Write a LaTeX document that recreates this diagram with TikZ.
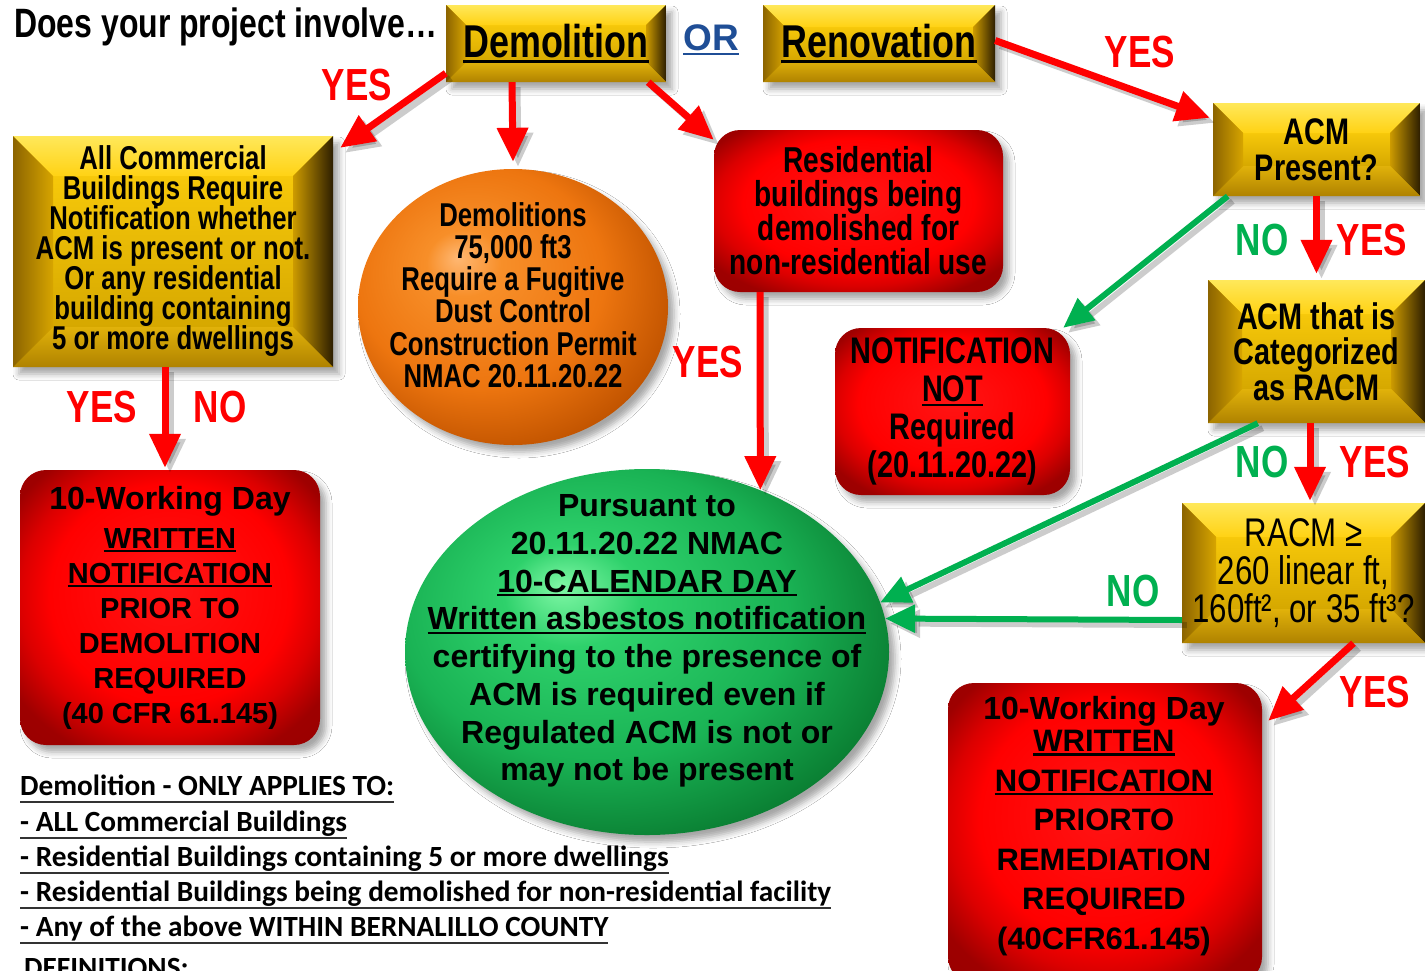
\documentclass[tikz,border=0pt]{standalone}
\usepackage{fontspec}
\setmainfont{Liberation Sans}
\newfontfamily\nar[FakeStretch=0.78]{Liberation Sans}
\newfontfamily\carl{Carlito}
\usetikzlibrary{shapes.geometric,arrows.meta,shadows.blur}
\newcommand\fs[2]{\fontsize{#1}{#2}\selectfont\lineskiplimit=-100pt\lineskip=0pt}
\newcommand\uln[1]{\setbox0\hbox{#1}\rlap{\rule[-0.13em]{\wd0}{0.075em}}\box0}
\newcommand\ulb[1]{\setbox0\hbox{#1}\rlap{\color{black!80}\rule[-0.28em]{\wd0}{0.07em}}\box0}
\definecolor{faceT}{RGB}{246,200,10}
\definecolor{faceB}{RGB}{214,168,0}
\definecolor{topA}{RGB}{255,232,90}
\definecolor{topB}{RGB}{255,210,20}
\definecolor{rgtA}{RGB}{205,155,0}
\definecolor{rgtB}{RGB}{45,30,0}
\definecolor{botA}{RGB}{225,178,10}
\definecolor{botB}{RGB}{175,130,0}
\definecolor{lftA}{RGB}{140,100,0}
\definecolor{lftB}{RGB}{215,165,0}
\definecolor{arrred}{RGB}{255,0,0}
\definecolor{arrgreen}{RGB}{0,176,80}
\definecolor{orblue}{RGB}{31,78,150}
\pgfdeclareradialshading{redglow}{\pgfpoint{0bp}{4bp}}{rgb(0bp)=(1,0.08,0.08); rgb(20bp)=(1,0,0); rgb(25bp)=(0.86,0,0); rgb(31bp)=(0.62,0,0); rgb(50bp)=(0.55,0,0)}
\pgfdeclareradialshading{orangeball}{\pgfpoint{-9bp}{9bp}}{rgb(0bp)=(1,0.72,0.45); rgb(6bp)=(0.97,0.56,0.16); rgb(20bp)=(0.93,0.46,0.06); rgb(30bp)=(0.76,0.33,0.0); rgb(37bp)=(0.5,0.2,0); rgb(50bp)=(0.4,0.15,0)}
\pgfdeclareradialshading{greenball}{\pgfpoint{-9bp}{9bp}}{rgb(0bp)=(0.5,0.97,0.65); rgb(7bp)=(0.18,0.82,0.42); rgb(20bp)=(0.1,0.7,0.33); rgb(30bp)=(0.04,0.5,0.2); rgb(37bp)=(0,0.3,0.1); rgb(50bp)=(0,0.2,0.05)}
\newcommand\conn[3]{%
  \begin{scope}[transform canvas={shift={(5pt,-5pt)}}]
    \draw[#1, draw=black, opacity=.2] #2 -- #3;
  \end{scope}
  \draw[#1] #2 -- #3;}
\begin{document}
\begin{tikzpicture}[x=1pt,y=-1pt,
  bevel/.style={path picture={
    \path (path picture bounding box.north west) coordinate (bvA)
          (path picture bounding box.north east) coordinate (bvB)
          (path picture bounding box.south east) coordinate (bvC)
          (path picture bounding box.south west) coordinate (bvD);
    \path ([xshift=#1pt,yshift=-#1pt]bvA) coordinate (bva)
          ([xshift=-#1pt,yshift=-#1pt]bvB) coordinate (bvb)
          ([xshift=-#1pt,yshift=#1pt]bvC) coordinate (bvc)
          ([xshift=#1pt,yshift=#1pt]bvD) coordinate (bvd);
    \shade[top color=faceT,bottom color=faceB] (bva) rectangle (bvc);
    \shade[top color=topA,bottom color=topB] (bvA)--(bvB)--(bvb)--(bva)--cycle;
    \shade[left color=rgtA,right color=rgtB] (bvB)--(bvC)--(bvc)--(bvb)--cycle;
    \shade[top color=botA,bottom color=botB] (bvD)--(bvC)--(bvc)--(bvd)--cycle;
    \shade[left color=lftA,right color=lftB] (bvA)--(bvD)--(bvd)--(bva)--cycle;
  }},
  shad/.style={blur shadow={shadow xshift=6pt,shadow yshift=-7pt,shadow opacity=35,shadow blur radius=6pt}},
  gbox/.style={bevel=#1, fill=faceB, inner sep=0pt, align=center, shad},
  rbox/.style={rounded corners=26pt, shade, shading=redglow, inner sep=0pt, align=center, shad},
  ball/.style={ellipse, shade, shading=#1, inner sep=0pt, shad},
  rarr/.style={draw=arrred, line width=7pt, -{Triangle[length=34pt,width=30pt]}},
  garr/.style={draw=arrgreen, line width=6pt, -{Triangle[length=30pt,width=27pt]}},
  ylab/.style={font=\nar\bfseries\fs{45}{45}, text=arrred, inner sep=0pt},
  nlab/.style={font=\nar\bfseries\fs{45}{45}, text=arrgreen, inner sep=0pt},
  listl/.style={anchor=base west, font=\carl\bfseries\fs{29.3}{29.3}, inner sep=0pt}
]
\clip (0,0) rectangle (1425,970);
\fill[white] (0,0) rectangle (1425,970);

% title
\node[anchor=base west, inner sep=0pt, font=\nar\bfseries\fs{41}{41}] (title) at (14,37) {Does your project involve…};

% top boxes
\node[gbox=20, minimum width=220pt, minimum height=77pt, font=\nar\bfseries\fs{46}{46}] (demo) at (556,43.5) {\uln{Demolition}};
\node[font=\bfseries\fs{37}{37}, text=orblue, inner sep=0pt] (or) at (711,40) {\uln{OR}};
\node[gbox=22, minimum width=232pt, minimum height=77pt, font=\nar\bfseries\fs{46}{46}] (reno) at (879,43.5) {\uln{Renovation}};

% left column
\node[gbox=40, minimum width=320pt, minimum height=231pt, font=\nar\bfseries\fs{33}{30}] (allc) at (173,251.5)
  {All Commercial\\Buildings Require\\Notification whether\\ACM is present or not.\\Or any residential\\building containing\\5 or more dwellings};
\node[rbox, minimum width=300pt, minimum height=275pt, font=\bfseries\fs{29}{35}] (lred) at (170,607.5)
  {{\fs{32}{35}10-Working Day}\\[4pt]\uln{WRITTEN}\\\uln{NOTIFICATION}\\PRIOR TO\\DEMOLITION\\REQUIRED\\(40 CFR 61.145)};

% orange ball
\node[ball=orangeball, minimum width=310pt, minimum height=276pt] (orng) at (513,307) {};
\node[font=\nar\bfseries\fs{33}{32.2}, align=center, inner sep=0pt] (otxt) at (513,295)
  {Demolitions\\75,000 ft3\\Require a Fugitive\\Dust Control\\Construction Permit\\NMAC 20.11.20.22};

% residential
\node[rbox, minimum width=289pt, minimum height=162pt, font=\nar\bfseries\fs{36}{34}] (resi) at (858.5,211)
  {Residential\\buildings being\\demolished for\\non-residential use};

% notification not required
\node[rbox, minimum width=235pt, minimum height=167pt, font=\nar\bfseries\fs{37}{38}] (notr) at (952.5,411.5)
  {NOTIFICATION\\\uln{NOT}\\Required\\(20.11.20.22)};

% right column
\node[gbox=30, minimum width=207pt, minimum height=93pt, font=\nar\bfseries\fs{37}{36}] (acm) at (1316.5,149.5) {ACM\\Present?};
\node[gbox=34, minimum width=217pt, minimum height=143pt, font=\nar\bfseries\fs{37}{35.5}] (cat) at (1316.5,351.5) {ACM that is\\Categorized\\as RACM};
\node[gbox=34, minimum width=243pt, minimum height=140pt, font=\nar\fs{40}{38}] (racm) at (1303.5,573) {RACM ≥\\260 linear ft,\\160ft², or 35 ft³?};

% green ball
\node[ball=greenball, minimum width=484pt, minimum height=366pt] (grn) at (647,652) {};
\node[font=\bfseries\fs{32}{37.8}, align=center, inner sep=0pt] (gtxt) at (647,641)
  {Pursuant to\\20.11.20.22 NMAC\\\uln{10-CALENDAR DAY}\\\uln{Written asbestos notification}\\certifying to the presence of\\ACM is required even if\\Regulated ACM is not or\\may not be present};

% bottom right red
\node[rbox, minimum width=314pt, minimum height=300pt] (rred) at (1105,833) {};
\node[font=\bfseries\fs{31}{39.5}, align=center, inner sep=0pt] (rtxt) at (1104,826)
  {{\fs{32}{32}10-Working Day}\\[-7.5pt]\uln{WRITTEN}\\\uln{NOTIFICATION}\\PRIORTO\\REMEDIATION\\REQUIRED\\(40CFR61.145)};

% connectors
\conn{rarr}{([yshift=9pt]demo.south west)}{([xshift=7pt,yshift=-12pt]allc.north east)}
\conn{rarr}{([xshift=-44pt]demo.south)}{([yshift=7pt]orng.north)}
\conn{rarr}{([xshift=-18pt]demo.south east)}{([yshift=-10pt]resi.north west)}
\conn{rarr}{([yshift=3pt]reno.east)}{([xshift=-3pt,yshift=-15pt]acm.north west)}
\conn{garr}{([xshift=15pt]acm.south west)}{([xshift=-7pt]notr.north east)}
\conn{rarr}{(acm.south)}{([yshift=6pt]cat.north)}
\conn{garr}{([xshift=50pt]cat.south west)}{(grn.12)}
\conn{rarr}{([xshift=-6.5pt]cat.south)}{([xshift=6.5pt,yshift=2pt]racm.north)}
\conn{garr}{([yshift=-47pt]racm.west)}{(grn.8)}
\conn{rarr}{([xshift=50pt]racm.south)}{([xshift=6pt,yshift=-38pt]rred.north east)}
\conn{rarr}{([xshift=-8pt]allc.south)}{([xshift=-5pt,yshift=2pt]lred.north)}
\conn{rarr}{([xshift=-98.5pt]resi.south)}{(grn.55)}

% labels
\node[ylab] (y1) at (357,85) {YES};
\node[ylab] (y2) at (1140,52) {YES};
\node[nlab] (n1) at (1262,240) {NO};
\node[ylab] (y3) at (1372,240) {YES};
\node[nlab] (n2) at (1262,462) {NO};
\node[ylab] (y4) at (1375,462) {YES};
\node[nlab] (n3) at (1133,591) {NO};
\node[ylab] (y5) at (1375,692) {YES};
\node[ylab] (y6) at (102,407) {YES};
\node[ylab] (n4) at (220,407) {NO};
\node[ylab] (y7) at (708,362) {YES};

% bottom list
\node[listl] (l1) at (20,795) {\ulb{Demolition - ONLY APPLIES TO:}};
\node[listl] (l2) at (20,831) {\ulb{- ALL Commercial Buildings}};
\node[listl] (l3) at (20,866) {\ulb{- Residential Buildings containing 5 or more dwellings}};
\node[listl] (l4) at (20,901) {\ulb{- Residential Buildings being demolished for non-residential facility}};
\node[listl] (l5) at (20,936) {\ulb{- Any of the above WITHIN BERNALILLO COUNTY}};
\node[listl] (l6) at (24,977) {DEFINITIONS:};
\end{tikzpicture}
\end{document}
